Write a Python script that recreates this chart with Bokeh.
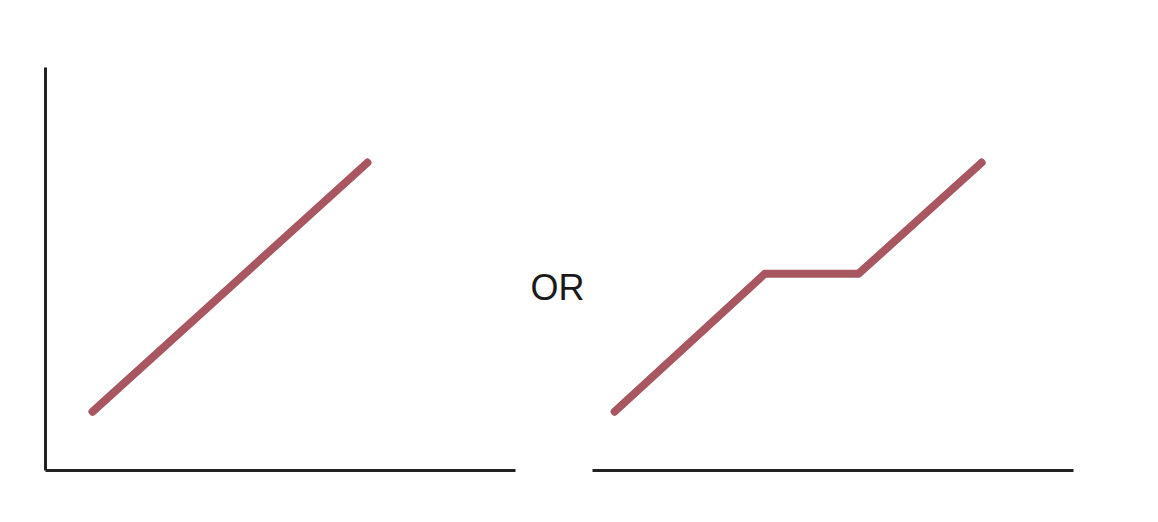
from bokeh.plotting import figure
from bokeh.layouts import row
from bokeh.models import Label
from bokeh.embed import file_html
from bokeh.resources import INLINE

# schematic progress: steady climb vs. climb with a plateau
steady_x = [1.0, 6.85]
steady_y = [1.46, 7.64]

plateau_x = [0.46, 3.58, 5.53, 8.09]
plateau_y = [1.46, 4.88, 4.88, 7.64]

line_color = "#a8565f"
axis_color = "#222222"


def bare_figure(width, border_left, border_right):
  p = figure(width=width, height=506, x_range=(0, 10), y_range=(0, 10),
             toolbar_location=None, tools="", output_backend="svg",
             min_border_left=border_left, min_border_right=border_right,
             min_border_top=67, min_border_bottom=36,
             outline_line_color=None, background_fill_color=None, border_fill_color=None)
  p.grid.grid_line_color = None
  p.xaxis.ticker = []
  p.yaxis.ticker = []
  p.axis.major_tick_line_color = None
  p.axis.minor_tick_line_color = None
  p.axis.axis_line_width = 3
  p.axis.axis_line_color = axis_color
  return p


left = bare_figure(522, 45, 7)
left.line(steady_x, steady_y, line_width=8, line_color=line_color, line_cap="round")

middle = figure(width=70, height=506, x_range=(0, 1), y_range=(0, 10),
                toolbar_location=None, tools="", output_backend="svg",
                min_border_left=0, min_border_right=0, min_border_top=67, min_border_bottom=36,
                outline_line_color=None, background_fill_color=None, border_fill_color=None)
middle.axis.visible = False
middle.grid.grid_line_color = None
middle.add_layout(Label(x=0.5, y=4.55, text="OR", text_align="center", text_baseline="middle",
                        text_font="Liberation Sans", text_font_size="36px", text_color="#1a1a1a"))

right = bare_figure(558, 0, 77)
right.yaxis.visible = False
right.line(plateau_x, plateau_y, line_width=8, line_color=line_color, line_cap="round", line_join="round")

layout = row(left, middle, right)

open("out.html", "w").write(file_html(layout, INLINE))
